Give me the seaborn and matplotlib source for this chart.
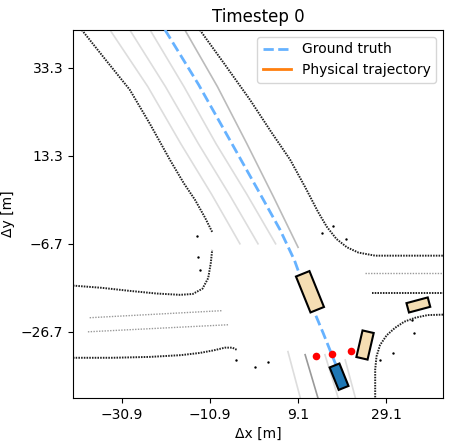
import numpy as np
import matplotlib
matplotlib.use("Agg")
import matplotlib.pyplot as plt
import seaborn as sns
from matplotlib.patches import Rectangle
import matplotlib.transforms as mtransforms

# ground truth path
gt_x = [-21.1, -13.5, -6.4, 0.0, 5.0, 8.3, 10.7, 14.8, 18.6]
gt_y = [41.9, 29.5, 16.9, 5.5, -3.5, -10.5, -17.2, -27.0, -36.5]

# road boundaries (black dotted)
boundaries = [
    ([-40.0, -34.5, -29.1, -24.5, -20.0, -16.8, -14.3, -12.0, -10.4],
     [41.9, 35.0, 28.3, 20.5, 12.4, 7.0, 3.3, -0.8, -4.0]),
    ([-42.0, -35.5, -29.1, -23.0, -17.7, -14.8, -12.6, -11.3, -10.7, -10.4],
     [-16.2, -16.7, -17.4, -18.0, -18.3, -18.1, -16.9, -14.5, -11.0, -8.1]),
    ([-13.2, -7.5, -1.8, 3.0, 7.3, 10.8, 13.6, 15.6, 17.8, 20.2, 22.8, 26.6, 42.0],
     [41.9, 34.0, 26.0, 18.7, 12.4, 6.0, 0.6, -2.8, -5.6, -7.5, -8.7, -9.4, -9.4]),
    ([42.0, 38.5, 35.7, 33.2, 31.1, 29.2, 27.7, 26.9, 26.6, 26.6],
     [-22.8, -22.9, -23.5, -24.4, -25.8, -27.5, -29.7, -32.3, -35.3, -41.7]),
    ([-42.0, -33.0, -24.5, -17.5, -13.2, -10.0, -7.5, -5.8, -4.8],
     [-32.6, -32.6, -32.4, -32.0, -31.5, -30.9, -30.3, -30.3, -30.8]),
    ([25.9, 42.0], [-17.8, -17.8]),
]
# faint dotted lines
faint_dotted = [
    ([24.3, 42.0], [-13.3, -13.3]),
    ([-38.2, -8.2], [-23.5, -21.9]),
    ([-38.6, -6.8], [-26.7, -25.1]),
]
# lane centre lines (solid gray)
lanes = [
    ([-33.6, -25.0, -17.5, -10.5, -4.1], [41.9, 29.0, 16.0, 4.5, -6.7], "#dddddd"),
    ([-29.1, -21.0, -13.5, -6.5, 0.0], [41.9, 29.0, 16.0, 4.5, -6.7], "#dddddd"),
    ([-24.5, -16.8, -9.5, -2.5, 4.0], [41.9, 29.0, 16.0, 4.5, -6.7], "#dddddd"),
    ([-16.6, -9.2, -2.5, 3.5, 9.1], [41.9, 29.0, 16.0, 4.0, -7.5], "#bbbbbb"),
    ([6.8, 9.6], [-31.2, -41.7], "#dddddd"),
    ([10.7, 13.6], [-31.9, -41.7], "#999999"),
    ([15.2, 18.2], [-31.9, -41.7], "#dddddd"),
    ([19.8, 22.1], [-33.1, -41.7], "#dddddd"),
]
# vehicles: x, y, length, width, angle
veh_x = [11.8, 24.3, 36.4]
veh_y = [-17.6, -29.7, -20.6]
veh_len = [8.8, 6.2, 5.0]
veh_wid = [3.3, 2.6, 2.2]
veh_ang = [112, 77, 15]
ego = (18.4, -36.9, 5.5, 2.4, 112)

red_x = [13.2, 16.8, 21.1]
red_y = [-32.2, -31.7, -31.0]
pts_x = [-13.9, -13.6, -13.2, -5.0, -0.7, 2.3, 14.6, 17.1, 20.0, 35.0, 35.5, 30.7, 27.7]
pts_y = [-4.9, -9.7, -12.6, -33.1, -34.7, -33.5, -4.2, -2.6, -5.6, -24.0, -26.9, -31.5, -33.1]

fig = plt.figure(figsize=(4.53, 4.46), dpi=100)
ax = fig.add_axes([0.161, 0.108, 0.817, 0.825])

for lx, ly, c in lanes:
    ax.plot(lx, ly, color=c, lw=1.2, zorder=1)
for bx, by in faint_dotted:
    ax.plot(bx, by, color="#999999", lw=1.0, ls=(0, (1, 1)), zorder=1)
for bx, by in boundaries:
    ax.plot(bx, by, color="#222222", lw=1.4, ls=(0, (0.8, 0.6)), zorder=2)

sns.scatterplot(x=pts_x, y=pts_y, color="black", s=3, linewidth=0, ax=ax, zorder=3)

def box(x, y, l, w, a, fc):
    r = Rectangle((x - l / 2, y - w / 2), l, w, fc=fc, ec="black", lw=1.5, zorder=5)
    r.set_transform(mtransforms.Affine2D().rotate_deg_around(x, y, a) + ax.transData)
    ax.add_patch(r)

for x, y, l, w, a in zip(veh_x, veh_y, veh_len, veh_wid, veh_ang):
    box(x, y, l, w, a, "#f5deb3")
box(*ego, "#1f77b4")

sns.lineplot(x=gt_x, y=gt_y, sort=False, estimator=None, color="#66b2ff", lw=2,
             ls="--", ax=ax, zorder=4, label="Ground truth")
ax.plot([], [], color="#ff7f0e", lw=2, label="Physical trajectory")
sns.scatterplot(x=red_x, y=red_y, color="red", s=30, linewidth=0, ax=ax, zorder=6)

ax.set_xlim(-42, 42)
ax.set_ylim(-41.7, 41.9)
ax.set_xticks([-30.9, -10.9, 9.1, 29.1])
ax.set_yticks([-26.7, -6.7, 13.3, 33.3])
ax.set_xlabel("Δx [m]")
ax.set_ylabel("Δy [m]")
ax.set_title("Timestep 0")
ax.legend(loc="upper right")
fig.savefig("out.png", dpi=100)
